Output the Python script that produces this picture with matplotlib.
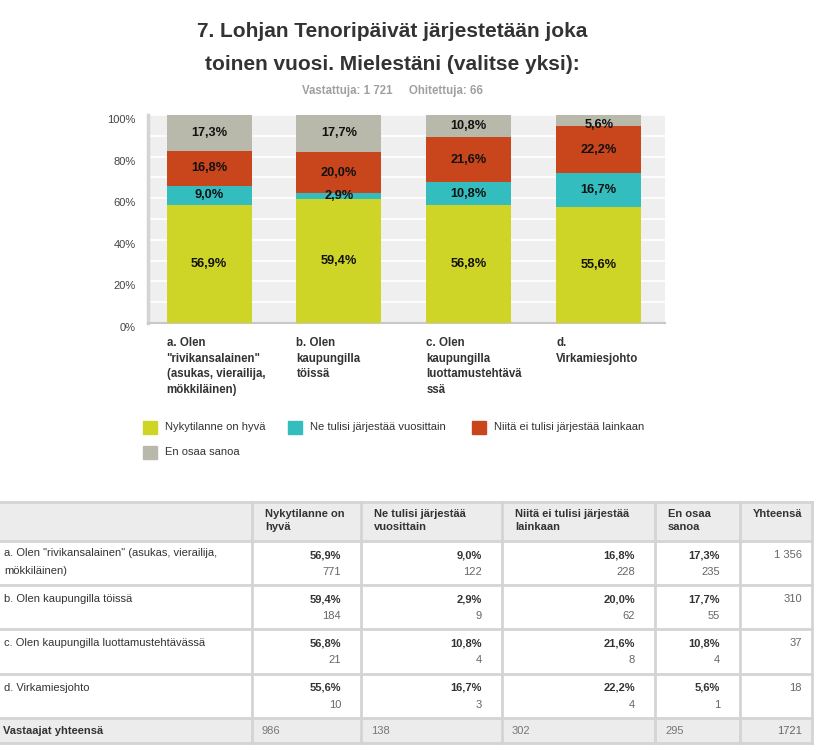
import numpy as np
import matplotlib
matplotlib.use('Agg')
import matplotlib.pyplot as plt
from matplotlib.patches import Rectangle
from matplotlib.transforms import ScaledTranslation, blended_transform_factory

plt.rcParams['font.family'] = ['Liberation Sans', 'DejaVu Sans']

title = '7. Lohjan Tenoripäivät järjestetään joka\ntoinen vuosi. Mielestäni (valitse yksi):'
subtitle = 'Vastattuja: 1 721     Ohitettuja: 66'

chart_cats = ['a. Olen\n"rivikansalainen"\n(asukas, vierailija,\nmökkiläinen)',
              'b. Olen\nkaupungilla\ntöissä',
              'c. Olen\nkaupungilla\nluottamustehtävä\nssä',
              'd.\nVirkamiesjohto']
table_cats = ['a. Olen "rivikansalainen" (asukas, vierailija,\nmökkiläinen)',
              'b. Olen kaupungilla töissä',
              'c. Olen kaupungilla luottamustehtävässä',
              'd. Virkamiesjohto']

series = ['Nykytilanne on hyvä', 'Ne tulisi järjestää vuosittain',
          'Niitä ei tulisi järjestää lainkaan', 'En osaa sanoa']
series_head = ['Nykytilanne on\nhyvä', 'Ne tulisi järjestää\nvuosittain',
               'Niitä ei tulisi järjestää\nlainkaan', 'En osaa\nsanoa']
colors = ['#cfd527', '#33bdbf', '#c9451b', '#b8b9aa']

pct_hyva = [56.9, 59.4, 56.8, 55.6]
pct_vuosi = [9.0, 2.9, 10.8, 16.7]
pct_lainkaan = [16.8, 20.0, 21.6, 22.2]
pct_eos = [17.3, 17.7, 10.8, 5.6]

n_hyva = [771, 184, 21, 10]
n_vuosi = [122, 9, 4, 3]
n_lainkaan = [228, 62, 8, 4]
n_eos = [235, 55, 4, 1]
row_totals = ['1 356', '310', '37', '18']
col_totals = ['986', '138', '302', '295', '1721']

pcts = [pct_hyva, pct_vuosi, pct_lainkaan, pct_eos]
counts = [n_hyva, n_vuosi, n_lainkaan, n_eos]


def fmt(v):
    return ('%.1f' % v).replace('.', ',') + '%'


W, H = 816, 751
fig = plt.figure(figsize=(W / 100, H / 100), dpi=100)

# chart area
ax = fig.add_axes([148 / W, 1 - 323 / H, (665 - 148) / W, (323 - 115) / H])
ax.set_facecolor('#efefef')
x = np.arange(len(chart_cats))
bw = 0.655
bottom = np.zeros(len(x))
for k in range(4):
    vals = np.array(pcts[k])
    ax.bar(x, vals, bw, bottom=bottom, color=colors[k], zorder=3)
    for i in range(len(x)):
        yc = min(bottom[i] + vals[i] / 2, 95)
        ax.text(x[i], yc, fmt(vals[i]), ha='center', va='center',
                fontsize=9.2, fontweight='bold', color='#111111', zorder=4)
    bottom += vals

ax.set_xlim(-0.47, 3.51)
ax.set_ylim(0, 100)
ax.set_yticks(np.arange(0, 101, 20))
ax.set_yticks(np.arange(10, 100, 20), minor=True)
ax.set_yticklabels(['%d%%' % v for v in range(0, 101, 20)])
ax.grid(True, which='both', axis='y', color='white', lw=1.2, zorder=1)
ax.set_xticks([])
ax.tick_params(axis='y', which='both', length=0, pad=9, labelsize=8, labelcolor='#444444')
off = ScaledTranslation(0, -4 / 100, fig.dpi_scale_trans)
for lab in ax.get_yticklabels():
    lab.set_transform(lab.get_transform() + off)
for s in ['top', 'right']:
    ax.spines[s].set_visible(False)
ax.spines['left'].set_color('#d4d4d4')
ax.spines['left'].set_linewidth(2.5)
ax.spines['bottom'].set_color('#c8c8c8')
ax.spines['bottom'].set_linewidth(1.5)

tr = blended_transform_factory(ax.transData, ax.transAxes)
for i, c in enumerate(chart_cats):
    ax.text(x[i] - bw / 2, -14 / 208, c, transform=tr, ha='left', va='top',
            fontsize=8.3, fontweight='bold', color='#333333', linespacing=1.4,
            clip_on=False)

# overlay in pixel coordinates for title, legend and table
ov = fig.add_axes([0, 0, 1, 1])
ov.set_xlim(0, W)
ov.set_ylim(H, 0)
ov.axis('off')
ov.patch.set_visible(False)

ov.text(392, 48, title, ha='center', va='center', fontsize=15,
        fontweight='bold', color='#333333', linespacing=1.95)
ov.text(392, 91, subtitle, ha='center', va='center', fontsize=8.3,
        fontweight='bold', color='#a0a0a0')

# legend
leg_pos = [(143, 427), (288, 427), (472, 427), (143, 452)]
for k, (lx, ly) in enumerate(leg_pos):
    ov.add_patch(Rectangle((lx, ly - 6.5), 14, 13, color=colors[k]))
    ov.text(lx + 22, ly, series[k], ha='left', va='center', fontsize=8,
            color='#333333')

# table
col_x = [0, 252, 361, 502, 655, 740, 812]
row_y = [502, 541, 585, 629, 674, 718, 743]
line_c = '#d4d4d4'
head_bg = '#ececec'

ov.add_patch(Rectangle((col_x[0], row_y[0]), col_x[-1], row_y[1] - row_y[0],
                       color=head_bg, zorder=1))
ov.add_patch(Rectangle((col_x[0], row_y[5]), col_x[-1], row_y[6] - row_y[5],
                       color=head_bg, zorder=1))
for yy in row_y:
    ov.plot([col_x[0], col_x[-1]], [yy, yy], color=line_c, lw=2, zorder=2)
for xx in col_x[1:]:
    ov.plot([xx, xx], [row_y[0], row_y[-1]], color=line_c, lw=2, zorder=2)

for k in range(4):
    ov.text(col_x[k + 1] + 13, row_y[0] + 7, series_head[k], ha='left', va='top',
            fontsize=8, fontweight='bold', color='#333333', linespacing=1.4)
ov.text(col_x[6] - 10, row_y[0] + 7, 'Yhteensä', ha='right', va='top',
        fontsize=8, fontweight='bold', color='#333333')

for i in range(4):
    ty = row_y[i + 1]
    if '\n' in table_cats[i]:
        ov.text(4, ty + 7, table_cats[i], ha='left', va='top', fontsize=8,
                color='#333333', linespacing=1.95)
    else:
        ov.text(4, ty + 14, table_cats[i], ha='left', va='center', fontsize=8,
                color='#333333')
    for k in range(4):
        rx = col_x[k + 2] - 20
        ov.text(rx, ty + 14, fmt(pcts[k][i]), ha='right', va='center',
                fontsize=8, fontweight='bold', color='#333333')
        ov.text(rx, ty + 31, str(counts[k][i]), ha='right', va='center',
                fontsize=8, color='#666666')
    ov.text(col_x[6] - 10, ty + 14, row_totals[i], ha='right', va='center',
            fontsize=8, color='#666666')

ty = row_y[5] + 13
ov.text(3, ty, 'Vastaajat yhteensä', ha='left', va='center', fontsize=8,
        fontweight='bold', color='#333333')
for k in range(4):
    ov.text(col_x[k + 1] + 10, ty, col_totals[k], ha='left', va='center',
            fontsize=8, color='#777777')
ov.text(col_x[6] - 10, ty, col_totals[4], ha='right', va='center', fontsize=8,
        color='#666666')

fig.savefig('out.png', dpi=100)
